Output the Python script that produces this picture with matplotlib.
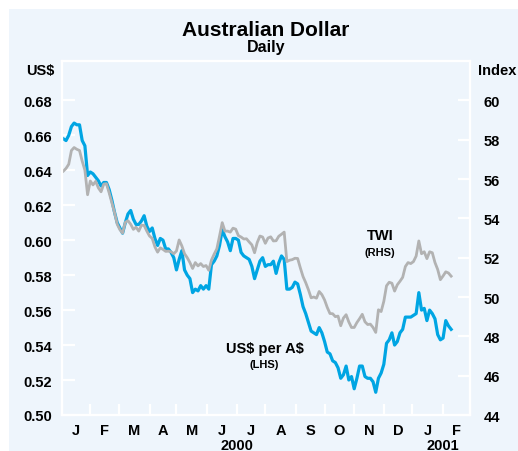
import numpy as np
import pandas as pd
import matplotlib
matplotlib.use("Agg")
import matplotlib.pyplot as plt
from matplotlib.patches import Rectangle

plt.rcParams['font.family'] = ['Liberation Sans', 'DejaVu Sans']
plt.rcParams['font.weight'] = 'bold'

# ---- data (sampled every 2nd trading day from 4 Jan 2000) ----
start_date = '2000-01-04'
usd = [0.658, 0.657, 0.660, 0.665, 0.667, 0.666, 0.666, 0.657, 0.654, 0.637,
       0.639, 0.638, 0.636, 0.634, 0.631, 0.633, 0.633, 0.629, 0.623, 0.616,
       0.610, 0.607, 0.604, 0.610, 0.615, 0.617, 0.612, 0.609, 0.609, 0.611,
       0.614, 0.608, 0.605, 0.607, 0.601, 0.597, 0.601, 0.600, 0.595, 0.595,
       0.593, 0.590, 0.583, 0.589, 0.594, 0.583, 0.580, 0.578, 0.570, 0.572,
       0.571, 0.574, 0.572, 0.574, 0.572, 0.586, 0.588, 0.591, 0.597, 0.606,
       0.602, 0.599, 0.594, 0.601, 0.601, 0.600, 0.593, 0.591, 0.590, 0.589,
       0.585, 0.578, 0.583, 0.588, 0.590, 0.585, 0.586, 0.586, 0.588, 0.581,
       0.587, 0.591, 0.589, 0.572, 0.572, 0.573, 0.576, 0.575, 0.569, 0.562,
       0.558, 0.553, 0.548, 0.547, 0.546, 0.550, 0.547, 0.542, 0.536, 0.535,
       0.531, 0.530, 0.527, 0.521, 0.523, 0.528, 0.520, 0.522, 0.515, 0.521,
       0.528, 0.528, 0.522, 0.521, 0.521, 0.519, 0.513, 0.521, 0.524, 0.529,
       0.541, 0.543, 0.547, 0.540, 0.542, 0.547, 0.549, 0.556, 0.556, 0.556,
       0.557, 0.558, 0.570, 0.560, 0.561, 0.554, 0.560, 0.558, 0.555, 0.546,
       0.543, 0.544, 0.554, 0.551, 0.549]
twi = [56.40, 56.54, 56.75, 57.45, 57.60, 57.51, 57.45, 56.91, 56.45, 55.20,
       55.90, 55.70, 55.88, 55.55, 55.35, 55.74, 55.76, 55.30, 54.80, 54.30,
       53.70, 53.42, 53.25, 53.80, 53.88, 53.70, 53.44, 53.55, 53.35, 53.65,
       53.64, 53.35, 53.10, 52.98, 52.55, 52.28, 52.50, 52.42, 52.32, 52.33,
       52.30, 52.20, 52.34, 52.90, 52.60, 52.20, 52.00, 51.75, 51.45, 51.75,
       51.58, 51.70, 51.55, 51.60, 51.36, 51.88, 52.18, 52.45, 53.10, 53.78,
       53.35, 53.35, 53.30, 53.50, 53.45, 53.12, 53.05, 52.95, 52.96, 52.80,
       52.65, 52.25, 52.77, 53.10, 53.05, 52.73, 53.00, 53.06, 52.85, 52.86,
       53.09, 53.19, 53.30, 51.80, 51.87, 51.90, 51.97, 51.96, 51.48, 51.04,
       50.73, 50.37, 49.96, 50.00, 49.94, 50.28, 50.12, 49.85, 49.47, 49.16,
       49.15, 49.00, 49.03, 48.54, 48.93, 49.10, 48.73, 48.45, 48.45, 48.70,
       48.90, 49.12, 48.74, 48.60, 48.62, 48.45, 48.20, 49.35, 49.26, 49.78,
       50.57, 50.75, 50.70, 50.30, 50.62, 50.80, 51.00, 51.55, 51.75, 51.70,
       51.80, 52.08, 52.85, 52.20, 52.30, 51.95, 52.30, 52.25, 51.75, 51.40,
       50.88, 51.07, 51.28, 51.22, 51.06]
month_labels = ['J', 'F', 'M', 'A', 'M', 'J', 'J', 'A', 'S', 'O', 'N', 'D', 'J', 'F']
year_labels = {'2000-07-01': '2000', '2001-02-01': '2001'}
left_ticks = [0.50, 0.52, 0.54, 0.56, 0.58, 0.60, 0.62, 0.64, 0.66, 0.68]
right_ticks = [44, 46, 48, 50, 52, 54, 56, 58, 60]

# ---- x positions on a trading-day scale ----
origin = np.datetime64('2000-01-01')
dates = pd.bdate_range(start_date, periods=len(usd), freq='2B')
xd = np.busday_count(origin, dates.values.astype('datetime64[D]'))
month_starts = pd.date_range('2000-01-01', '2001-03-01', freq='MS')
xm = np.busday_count(origin, month_starts.values.astype('datetime64[D]'))

bg = '#EEF5FC'
blue = '#00A5E3'
grey = '#B2B2B2'

W, H = 518, 452
fig = plt.figure(figsize=(W / 100, H / 100), dpi=100, facecolor='white')
fig.patches.append(Rectangle((9 / W, 0), 1 - 9 / W, 1 - 10 / H, transform=fig.transFigure,
                             facecolor=bg, edgecolor='none', zorder=-10))

ax = fig.add_axes([62 / W, 1 - 416 / H, (470 - 62) / W, (416 - 62) / H])
ax.set_facecolor(bg)
ax2 = ax.twinx()

ax.plot(xd, usd, color=blue, lw=2.3, solid_joinstyle='round')
ax2.plot(xd, twi, color=grey, lw=2.0, solid_joinstyle='round')

ax.set_xlim(xm[0], xm[-1])
ax.set_ylim(0.50, 0.7025)
ax2.set_ylim(44, 62)

for a in (ax, ax2):
    for s in a.spines.values():
        s.set_color('white')
        s.set_linewidth(1.6)

ax.set_yticks(left_ticks)
ax.set_yticklabels([f'{v:.2f}' for v in left_ticks], fontsize=10.5, fontweight='bold')
ax2.set_yticks(right_ticks)
ax2.set_yticklabels([str(v) for v in right_ticks], fontsize=10.5, fontweight='bold')
ax.tick_params(axis='y', direction='in', length=9, width=1.6, color='white', pad=7)
ax2.tick_params(axis='y', direction='in', length=9, width=1.6, color='white', pad=10)

ax.set_xticks(xm)
ax.set_xticklabels([])
ax.tick_params(axis='x', which='major', direction='in', length=8, width=1.6, color='white')
mids = (xm[:-1] + xm[1:]) / 2
ax.set_xticks(mids, minor=True)
ax.set_xticklabels(month_labels, minor=True, fontsize=10.5, fontweight='bold')
ax.tick_params(axis='x', which='minor', length=0, pad=6)

for d, lab in year_labels.items():
    xp = np.busday_count(origin, np.datetime64(d))
    ax.text(xp, -0.085, lab, transform=ax.get_xaxis_transform(), ha='center', va='center',
            fontsize=10.5, fontweight='bold')

fig.text(266 / W, 1 - 31 / H, 'Australian Dollar', ha='center', va='center',
         fontsize=15, fontweight='bold')
fig.text(266 / W, 1 - 48 / H, 'Daily', ha='center', va='center', fontsize=11.5, fontweight='bold')
fig.text(40 / W, 1 - 71 / H, 'US\\$', ha='center', va='center', fontsize=10.5, fontweight='bold')
fig.text(497 / W, 1 - 71 / H, 'Index', ha='center', va='center', fontsize=10.5, fontweight='bold')

fig.text(380 / W, 1 - 236 / H, 'TWI', ha='center', va='center', fontsize=10.5, fontweight='bold')
fig.text(380 / W, 1 - 253 / H, '(RHS)', ha='center', va='center', fontsize=8, fontweight='bold')
fig.text(265 / W, 1 - 349 / H, 'US\\$ per A\\$', ha='center', va='center', fontsize=10.5, fontweight='bold')
fig.text(264 / W, 1 - 365 / H, '(LHS)', ha='center', va='center', fontsize=8, fontweight='bold')

fig.savefig('out.png', dpi=100, facecolor='white')
